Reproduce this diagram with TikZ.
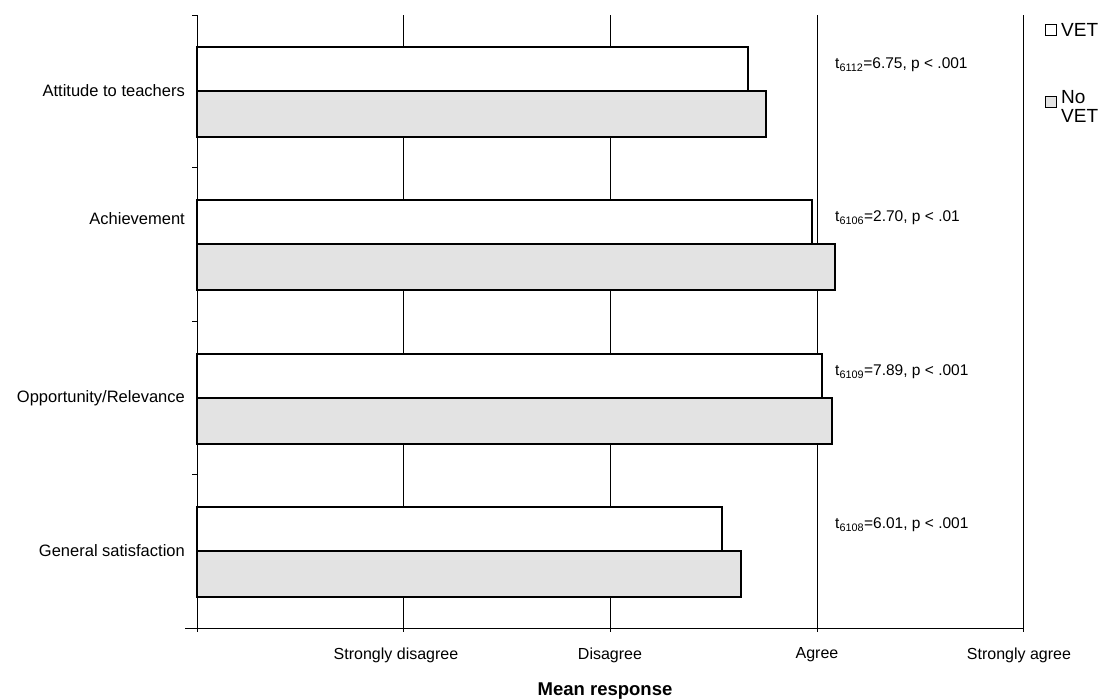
\documentclass[tikz,border=0pt]{standalone}
\usepackage{fontspec}
\setmainfont{Liberation Sans}
\usepackage{tikz}

\begin{document}
\begin{tikzpicture}[x=1pt, y=-1pt,
    every node/.style={font=\fontsize{15.5}{17}\selectfont, inner sep=1pt},
    vetbar/.style={draw=black, line width=1.6pt, fill=white},
    novetbar/.style={draw=black, line width=1.6pt, fill=black!11},
    gridline/.style={black, line width=0.9pt},
    keybox/.style={draw=black, line width=1.1pt, minimum size=11pt, inner sep=0pt}]
    \useasboundingbox (0,0) rectangle (1109,699);

    % Scale lines
    \foreach \gx in {403,610,817,1023}
        \draw[gridline] (\gx,15) -- (\gx,632);

    % Axes
    \draw[gridline] (197,15) -- (197,632);
    \draw[gridline] (185,628) -- (1023,628);
    \foreach \ty in {15,167,321,474}
        \draw[gridline] (192,\ty) -- (197,\ty);

    % Bars: centre / VET / No VET / label y / label / statistic
    \foreach \cy/\vet/\novet/\ly/\lab/\stat [count=\i] in {
        91/748/766/91/{Attitude to teachers}/{t\textsubscript{6112}=6.75, p < .001},
        244/812/835/219/{Achievement}/{t\textsubscript{6106}=2.70, p < .01},
        398/822/832/398/{Opportunity/Relevance}/{t\textsubscript{6109}=7.89, p < .001},
        551/722/741/551/{General satisfaction}/{t\textsubscript{6108}=6.01, p < .001}}
    {
        \draw[vetbar] (197,\cy-44) rectangle (\vet,\cy);
        \draw[novetbar] (197,\cy) rectangle (\novet,\cy+46);
        \node[anchor=east, font=\fontsize{16.5}{18}\selectfont] (cat\i) at (186,\ly) {\lab};
        \node[anchor=west] (stat\i) at (834,\cy-26) {\stat};
    }

    % Scale labels
    \foreach \gx/\txt [count=\j] in {396/Strongly disagree, 610/Disagree, 817/Agree, 1019/Strongly agree}
        \node[font=\fontsize{16}{18}\selectfont] (scale\j) at (\gx,655) {\txt};
    \node[font=\bfseries\fontsize{18.5}{20}\selectfont] (xlabel) at (605,691) {Mean response};

    % Legend
    \node[keybox, fill=white] (vetkey) at (1051,30) {};
    \node[anchor=west, font=\fontsize{19}{20}\selectfont] (vettext) at (1060,30) {VET};
    \node[keybox, fill=black!11] (novetkey) at (1051,102) {};
    \node[anchor=north west, align=left, font=\fontsize{19}{19}\selectfont] (novettext) at (1060,89) {No\\VET};
\end{tikzpicture}
\end{document}
